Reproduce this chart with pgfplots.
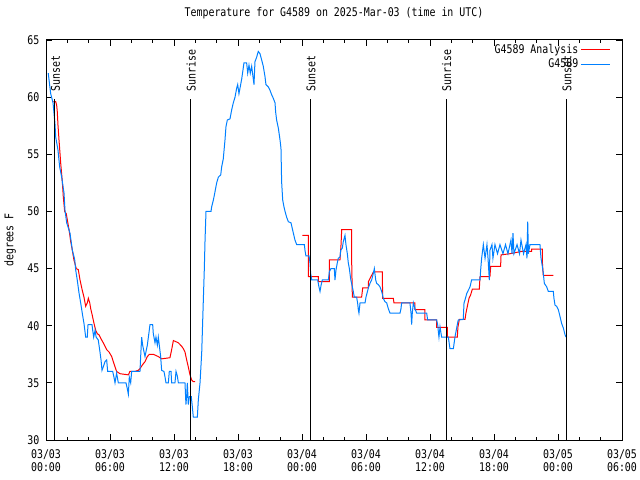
\documentclass[border=0pt]{standalone}
\usepackage{fontspec}
\setmainfont{DejaVu Sans Mono}[FakeStretch=0.83]
\usepackage{pgfplots}
\pgfplotsset{compat=1.18}
\definecolor{obsblue}{RGB}{0,128,255}
\begin{document}
\fontsize{12}{13}\selectfont
\begin{tikzpicture}
\path[use as bounding box] (-46bp,-40bp) rectangle (594bp,440bp);
\begin{axis}[
    at={(0,0)}, anchor=south west,
    scale only axis,
    width=576bp, height=400bp,
    xmin=0, xmax=54, ymin=30, ymax=65,
    xtick={0,6,...,54},
    xticklabels={03/03\\00:00,03/03\\06:00,03/03\\12:00,03/03\\18:00,03/04\\00:00,03/04\\06:00,03/04\\12:00,03/04\\18:00,03/05\\00:00,03/05\\06:00},
    minor x tick num=2,
    ytick={30,35,...,65},
    tick align=inside,
    major tick length=6bp, minor tick length=3bp,
    every tick/.style={black, line width=0.8bp},
    axis line style={line width=1bp},
    /pgf/number format/assume math mode=true,
    xticklabel style={align=center, anchor=north, inner sep=0pt, yshift=-9bp, font=\fontsize{12}{13}\selectfont},
    yticklabel style={anchor=east, inner sep=0pt, xshift=-6.5bp},
    title={Temperature for G4589 on 2025-Mar-03 (time in UTC)},
    title style={at={(axis description cs:0.5,1.0525)}, anchor=center, inner sep=0pt},
    ylabel={degrees F},
    ylabel style={at={(axis description cs:-0.0625,0.5)}, anchor=center, inner sep=0pt},
    legend style={draw=none, fill=none, at={(0.98,0.995)}, anchor=north east, inner sep=0pt, row sep=0pt, font=\fontsize{12}{13}\selectfont},
    legend cell align=right,
    legend plot pos=right,
    legend image code/.code={\draw[#1] (0bp,0bp) -- (29bp,0bp);},
    unbounded coords=jump,
]

\addplot[red, line width=1bp] coordinates {
(0.68,59.6)(0.91,59.6)(1.0,59.3)(1.06,58.7)(1.12,57.6)(1.22,56.25)(1.31,55.1)(1.38,54.2)
(1.53,52.6)(1.62,51.3)(1.75,50.0)(1.9,49.8)(2.0,49.25)(2.16,48.4)(2.32,47.35)(2.47,46.6)
(2.62,45.75)(2.84,45.0)(3.03,44.9)(3.19,44.0)(3.4,43.1)(3.56,42.5)(3.72,41.7)(3.87,42.0)
(3.97,42.4)(4.1,42.0)(4.19,41.5)(4.34,40.9)(4.5,40.2)(4.66,39.6)(4.81,39.3)(4.97,39.2)
(5.13,38.9)(5.37,38.5)(5.69,37.9)(5.91,37.7)(6.16,37.3)(6.31,36.85)(6.47,36.4)(6.62,36.0)
(6.94,35.8)(7.72,35.7)(7.87,36.0)(8.34,36.0)(8.66,36.1)(8.81,36.25)(9.06,36.6)(9.28,36.85)
(9.5,37.3)(9.69,37.5)(10.06,37.5)(10.53,37.3)(10.84,37.1)(11.62,37.2)(11.78,37.9)(11.94,38.7)
(12.19,38.6)(12.41,38.5)(12.72,38.2)(12.87,38.0)(13.03,37.7)(13.19,37.0)(13.34,36.4)(13.5,35.7)
(13.66,35.25)(13.81,35.1)(13.97,35.1)
(14.0,nan)
(24.03,47.9)(24.59,47.9)(24.59,44.3)(25.53,44.3)(25.53,43.85)(26.56,43.85)(26.56,45.75)
(27.56,45.75)(27.66,47.1)(27.72,48.4)(28.66,48.4)(28.66,45.5)(28.72,42.5)(29.59,42.5)
(29.69,43.3)(30.22,43.3)(30.22,43.85)(30.69,44.7)(31.53,44.7)(31.56,42.4)(32.56,42.4)
(32.62,42.0)(34.59,42.0)(34.59,41.4)(35.53,41.4)(35.53,40.5)(36.62,40.5)(36.62,39.85)
(37.64,39.85)(37.64,39.0)(38.56,39.0)(38.62,39.9)(38.75,40.55)(39.28,40.55)(39.37,41.1)
(39.5,41.7)(39.66,42.4)(39.81,42.7)(39.97,43.2)(40.62,43.2)(40.69,44.3)(41.62,44.3)
(41.69,45.2)(42.62,45.2)(42.66,46.2)(43.5,46.3)(44.59,46.5)(45.53,46.5)(45.53,46.7)
(46.53,46.7)(46.53,45.6)(46.62,44.4)(47.56,44.4)
};
\addlegendentry{G4589 Analysis}

\addplot[obsblue, line width=1bp] coordinates {
(0.21,62.1)(0.44,60.3)(0.66,59.5)(0.84,57.7)(0.91,56.5)(1.12,55.4)(1.28,53.9)(1.47,53.0)
(1.69,51.6)(1.78,50.1)(1.94,49.0)(2.25,48.1)(2.47,46.6)(2.69,45.8)(2.78,44.9)(2.93,44.0)
(3.09,42.9)(3.25,42.0)(3.40,41.1)(3.56,40.2)(3.72,39.0)(3.87,39.0)(3.94,40.1)(4.31,40.1)
(4.38,39.6)(4.47,39.0)(4.6,39.6)(4.7,39.0)(4.9,38.75)(5.06,37.7)(5.16,37.0)(5.25,36.1)
(5.37,36.4)(5.53,36.85)(5.69,37.0)(5.78,36.0)(6.25,36.0)(6.37,35.5)(6.47,35.0)(6.62,35.85)
(6.78,35.0)(7.5,35.0)(7.62,34.5)(7.72,34.0)(7.81,35.5)(7.94,35.0)(8.03,36.0)(8.81,36.0)
(8.88,37.4)(8.97,39.0)(9.06,38.3)(9.28,37.3)(9.5,38.3)(9.75,40.1)(10.0,40.1)(10.06,39.3)
(10.22,38.5)(10.31,39.0)(10.44,38.3)(10.53,39.0)(10.75,37.3)(10.84,36.1)(11.06,36.0)
(11.16,35.5)(11.25,35.0)(11.47,35.0)(11.56,36.0)(11.72,36.0)(11.78,35.0)(12.09,35.0)
(12.19,36.0)(12.31,35.6)(12.41,35.0)(13.03,35.0)(13.12,33.1)(13.19,33.9)(13.25,35.0)
(13.34,33.1)(13.44,33.8)(13.62,33.8)(13.72,32.9)(13.81,32.0)(14.19,32.0)(14.28,33.5)
(14.44,35.0)(14.6,37.7)(14.75,42.25)(14.84,44.9)(14.91,47.5)(15.0,50.0)(15.47,50.0)
(15.53,50.4)(15.69,51.0)(15.84,51.7)(16.0,52.5)(16.16,53.0)(16.38,53.2)(16.47,53.9)
(16.62,54.6)(16.78,56.25)(16.87,57.4)(17.0,58.0)(17.25,58.1)(17.41,58.9)(17.56,59.5)
(17.72,60.0)(17.88,60.8)(17.97,61.1)(18.09,60.3)(18.19,60.8)(18.35,61.6)(18.44,62.2)
(18.56,63.0)(18.81,63.0)(18.91,62.1)(19.03,62.8)(19.15,62.1)(19.28,62.7)(19.5,61.1)
(19.59,63.1)(19.75,63.5)(19.9,64.0)(20.06,63.8)(20.22,63.25)(20.37,62.7)(20.53,61.8)
(20.62,61.1)(20.84,60.9)(21.0,60.6)(21.16,60.2)(21.31,59.9)(21.47,59.5)(21.53,58.7)
(21.62,58.0)(21.78,57.3)(21.94,56.25)(22.03,55.5)(22.09,52.6)(22.19,51.0)(22.31,50.4)
(22.41,50.0)(22.56,49.5)(22.72,49.1)(22.97,49.0)(23.09,48.5)(23.19,48.1)(23.34,47.5)
(23.5,47.1)(24.22,47.1)(24.28,46.6)(24.37,46.1)(24.66,46.1)(24.75,45.5)(24.81,44.6)
(24.91,44.0)(25.47,44.0)(25.59,43.4)(25.69,43.0)(25.78,43.5)(25.9,44.0)(26.47,44.0)
(26.56,44.7)(26.72,45.0)(27.03,45.0)(27.09,44.0)(27.19,44.9)(27.31,45.5)(27.4,45.9)
(27.56,46.0)(27.63,46.6)(27.78,46.8)(27.87,47.35)(28.03,47.9)(28.12,47.1)(28.25,46.3)
(28.34,45.5)(28.44,45.0)(28.56,44.1)(28.72,43.4)(28.81,43.0)(28.9,42.5)(29.12,42.5)
(29.22,41.95)(29.28,41.4)(29.34,41.1)(29.44,42.0)(29.91,42.0)(30.0,42.5)(30.22,43.3)
(30.37,43.7)(30.53,44.0)(30.69,44.6)(30.78,45.0)(30.91,44.0)(31.0,43.7)(31.15,43.6)
(31.31,43.4)(31.47,43.0)(31.62,42.4)(31.78,42.1)(31.94,42.0)(32.09,41.5)(32.25,41.1)
(33.19,41.1)(33.28,41.5)(33.34,42.0)(34.12,42.0)(34.22,41.1)(34.28,40.1)(34.34,41.1)
(34.44,42.0)(34.59,41.5)(34.75,41.1)(35.69,41.1)(35.78,40.5)(36.62,40.5)(36.72,40.1)
(36.78,39.5)(36.84,39.0)(36.94,39.9)(37.09,39.0)(37.72,39.0)(37.78,38.6)(37.87,38.0)
(38.19,38.0)(38.28,38.6)(38.34,39.0)(38.44,39.5)(38.56,40.1)(38.65,40.5)(39.12,40.55)
(39.15,41.2)(39.19,42.0)(39.28,42.25)(39.44,42.8)(39.59,43.1)(39.75,43.4)(39.9,44.0)
(40.69,44.0)(40.75,44.9)(40.84,45.9)(41.0,47.1)(41.16,45.9)(41.34,47.1)(41.44,45.9)
(41.56,44.0)(41.62,46.6)(41.81,47.1)(41.9,45.9)(42.09,47.1)(42.33,46.3)(42.56,47.1)
(42.84,46.3)(43.08,47.1)(43.31,46.3)(43.59,47.5)(43.69,46.3)(43.78,48.1)(43.87,46.3)
(44.16,47.1)(44.39,46.3)(44.53,47.5)(44.77,46.3)(45.0,47.1)(45.09,45.9)(45.16,49.1)
(45.23,46.3)(45.37,47.1)(46.31,47.1)(46.37,46.3)(46.41,45.9)(46.53,45.2)
(46.62,44.6)(46.72,43.7)(46.94,43.4)(47.09,43.0)(47.56,43.0)(47.62,42.4)(47.72,41.8)
(47.87,41.7)(48.03,41.4)(48.19,40.8)(48.34,40.2)(48.5,39.8)(48.66,39.2)(48.75,39.0)
};
\addlegendentry{G4589}

\addplot[black, line width=1bp, forget plot] coordinates {(0.8,30)(0.8,59.8)};
\addplot[black, line width=1bp, forget plot] coordinates {(13.53,30)(13.53,59.8)};
\addplot[black, line width=1bp, forget plot] coordinates {(24.78,30)(24.78,59.8)};
\addplot[black, line width=1bp, forget plot] coordinates {(37.5,30)(37.5,59.8)};
\addplot[black, line width=1bp, forget plot] coordinates {(48.78,30)(48.78,59.8)};
\node[rotate=90, anchor=west, inner sep=0pt] at (axis cs:0.9,60.5) {Sunset};
\node[rotate=90, anchor=west, inner sep=0pt] at (axis cs:13.6,60.5) {Sunrise};
\node[rotate=90, anchor=west, inner sep=0pt] at (axis cs:24.85,60.5) {Sunset};
\node[rotate=90, anchor=west, inner sep=0pt] at (axis cs:37.57,60.5) {Sunrise};
\node[rotate=90, anchor=west, inner sep=0pt] at (axis cs:48.85,60.5) {Sunset};

\end{axis}
\end{tikzpicture}
\end{document}
